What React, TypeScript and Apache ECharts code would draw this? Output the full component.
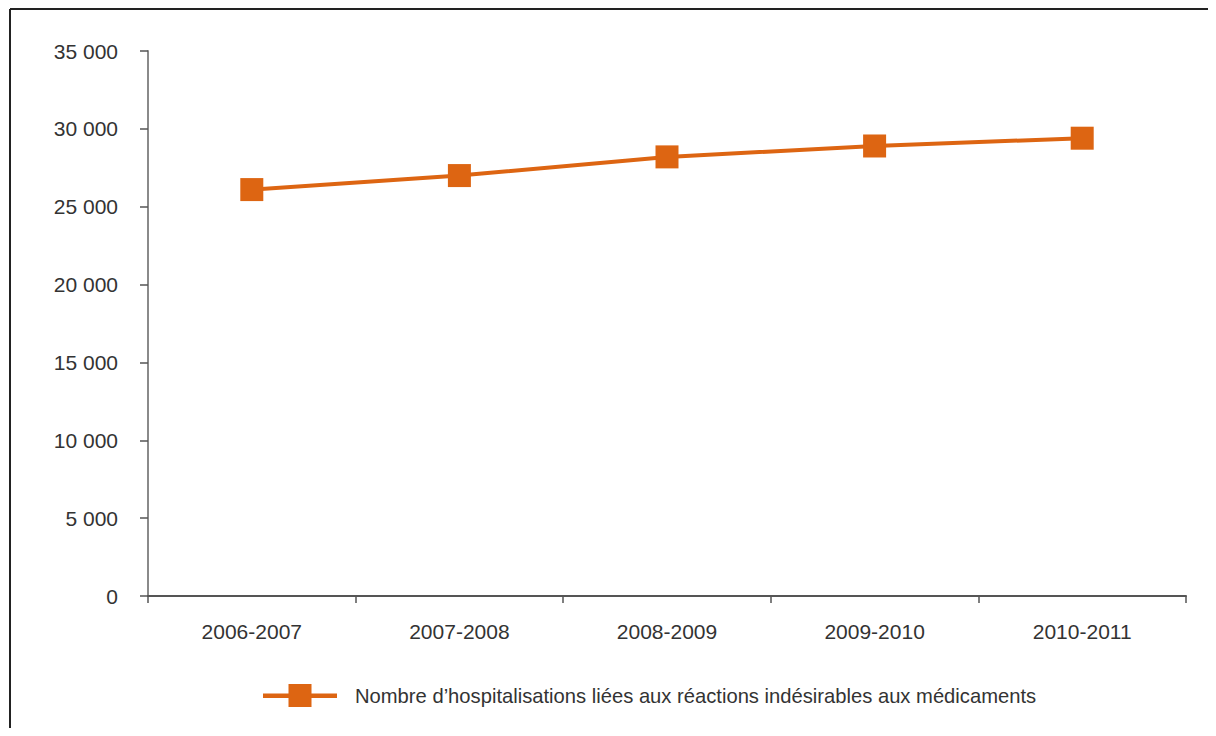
import React, { useEffect, useRef } from "react";
import * as echarts from "echarts";

// Hospitalisations linked to adverse drug reactions, by fiscal year
const categories = ["2006-2007", "2007-2008", "2008-2009", "2009-2010", "2010-2011"];
const hospitalisations = [26100, 27000, 28200, 28900, 29400];
const seriesName = "Nombre d\u2019hospitalisations liées aux réactions indésirables aux médicaments";

const FONT = "'Liberation Sans', Arial, sans-serif";
const ORANGE = "#dd6512";
const TEXT = "#333333";

// Legend key: thick line with a square marker in the middle
const LEGEND_ICON = "path://M0,9.5H74V14H0Z M25.5,0H48.5V23H25.5Z";

const formatThousands = (v: number) =>
  String(v).replace(/\B(?=(\d{3})+(?!\d))/g, " ");

export default function App() {
  const ref = useRef<HTMLDivElement>(null);

  useEffect(() => {
    if (!ref.current) return;
    const chart = echarts.init(ref.current, undefined, { renderer: "svg" });
    chart.setOption({
      animation: false,
      backgroundColor: "#ffffff",
      textStyle: { fontFamily: FONT },
      grid: { left: 148, right: 30, top: 51, bottom: 140 },
      graphic: [
        {
          type: "line",
          shape: { x1: 10, y1: 9, x2: 1216, y2: 9 },
          style: { stroke: "#222222", lineWidth: 2 },
        },
        {
          type: "line",
          shape: { x1: 10, y1: 9, x2: 10, y2: 736 },
          style: { stroke: "#222222", lineWidth: 2 },
        },
      ],
      legend: {
        left: 263,
        top: 684,
        padding: 0,
        itemWidth: 74,
        itemHeight: 23,
        icon: LEGEND_ICON,
        textStyle: {
          fontFamily: FONT,
          fontSize: 20.2,
          color: TEXT,
          padding: [0, 0, 0, 13],
        },
        data: [seriesName],
      },
      xAxis: {
        type: "category",
        data: categories,
        boundaryGap: true,
        axisLine: { lineStyle: { color: "#555555", width: 2 } },
        axisTick: { show: true, length: 7, lineStyle: { color: "#555555", width: 1.5 } },
        axisLabel: { fontFamily: FONT, fontSize: 21, color: TEXT, margin: 25 },
        splitLine: { show: false },
      },
      yAxis: {
        type: "value",
        min: 0,
        max: 35000,
        interval: 5000,
        axisLine: { show: true, lineStyle: { color: "#8a8a8a", width: 2 } },
        axisTick: { show: true, length: 8, lineStyle: { color: "#555555", width: 1.5 } },
        axisLabel: {
          fontFamily: FONT,
          fontSize: 21,
          color: TEXT,
          margin: 30,
          formatter: (v: number) => formatThousands(v),
        },
        splitLine: { show: false },
      },
      series: [
        {
          name: seriesName,
          type: "line",
          data: hospitalisations,
          symbol: "rect",
          symbolSize: 23,
          lineStyle: { color: ORANGE, width: 4 },
          itemStyle: { color: ORANGE },
        },
      ],
    });
    return () => chart.dispose();
  }, []);

  return <div ref={ref} style={{ width: 1216, height: 736, margin: -8 }} />;
}
